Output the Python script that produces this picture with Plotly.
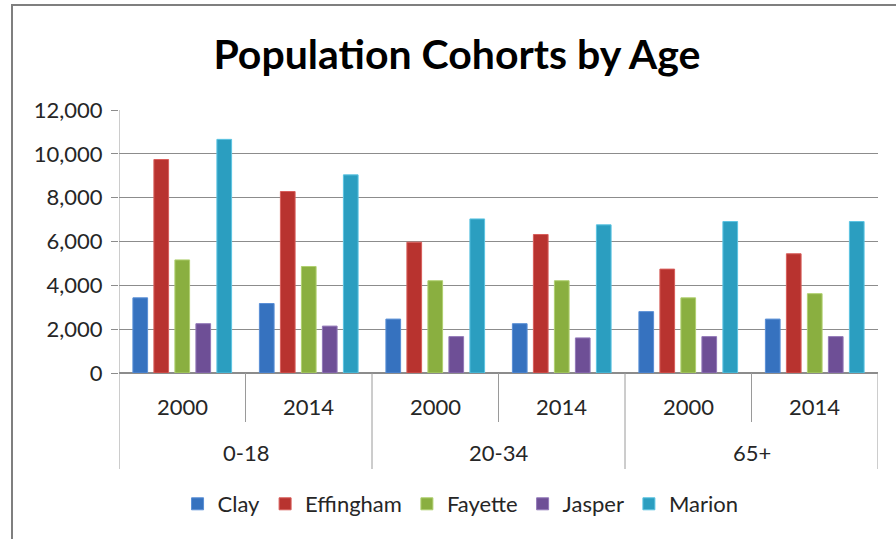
import plotly.graph_objects as go

age_groups = ["0-18", "0-18", "20-34", "20-34", "65+", "65+"]
years = ["2000", "2014", "2000", "2014", "2000", "2014"]

clay = [3430, 3170, 2460, 2250, 2800, 2460]
effingham = [9740, 8280, 5970, 6320, 4740, 5440]
fayette = [5160, 4860, 4210, 4210, 3430, 3620]
jasper = [2250, 2140, 1660, 1600, 1660, 1660]
marion = [10660, 9040, 7030, 6760, 6910, 6910]

series_names = ["Clay", "Effingham", "Fayette", "Jasper", "Marion"]
series_values = [clay, effingham, fayette, jasper, marion]
colors = ["#3672BF", "#B8332F", "#8AAF40", "#6E4F96", "#2B9EC0"]
line_colors = ["#5A8FD6", "#D85E5B", "#B0D070", "#9278B8", "#5CC4E2"]

y_ticks = [0, 2000, 4000, 6000, 8000, 10000, 12000]
y_tick_text = ["0", "2,000", "4,000", "6,000", "8,000", "10,000", "12,000"]

x_pos = list(range(len(years)))

fig = go.Figure()
for name, vals, c, lc in zip(series_names, series_values, colors, line_colors):
    fig.add_trace(go.Bar(
        x=x_pos, y=vals, name=name,
        marker=dict(color=c, line=dict(color=lc, width=1)),
    ))

W, H = 896, 539
L, R, T, B = 119, 18, 110, 166
pw, ph = W - L - R, H - T - B

def px_x(p):
    return (p - L) / pw

def px_y(p):
    return (H - B - p) / ph

label_color = "#262626"
div_color = "#9a9a9a"

annotations = []
shapes = []
# inner (year) labels
for xi, yr in zip(x_pos, years):
    annotations.append(dict(text=yr, x=xi, xref="x", y=px_y(406), yref="paper",
                            xanchor="center", yanchor="middle", showarrow=False,
                            font=dict(size=22, color=label_color)))
# outer (age group) labels and dividers
groups = []
for xi, g in zip(x_pos, age_groups):
    if not groups or groups[-1][0] != g:
        groups.append([g, [xi]])
    else:
        groups[-1][1].append(xi)
for g, idx in groups:
    annotations.append(dict(text=g, x=sum(idx) / len(idx), xref="x", y=px_y(452), yref="paper",
                            xanchor="center", yanchor="middle", showarrow=False,
                            font=dict(size=22, color=label_color)))
    shapes.append(dict(type="line", xref="x", yref="paper", x0=idx[-1] + 0.5, x1=idx[-1] + 0.5,
                       y0=0, y1=px_y(469), line=dict(color=div_color, width=1)))
    for xi in idx[:-1]:
        shapes.append(dict(type="line", xref="x", yref="paper", x0=xi + 0.5, x1=xi + 0.5,
                           y0=0, y1=px_y(422), line=dict(color=div_color, width=1)))
# left axis line extended down through the label area
shapes.append(dict(type="line", xref="x", yref="paper", x0=x_pos[0] - 0.5, x1=x_pos[0] - 0.5,
                   y0=1, y1=px_y(469), line=dict(color=div_color, width=1)))
# outer frame
shapes.append(dict(type="rect", xref="paper", yref="paper",
                   x0=px_x(12), x1=px_x(902), y0=px_y(545), y1=px_y(5),
                   line=dict(color="#7f7f7f", width=2), fillcolor="rgba(0,0,0,0)"))
# cut-off caption above the chart frame
annotations.append(dict(text="<b>Figure 4: Age Cohorts by County</b>", xref="paper", yref="paper",
                        x=px_x(462), y=px_y(-10), xanchor="center", yanchor="middle",
                        showarrow=False,
                        font=dict(family="Liberation Serif", size=18, color="black")))

fig.update_layout(
    width=W, height=H,
    margin=dict(l=L, r=R, t=T, b=B),
    paper_bgcolor="white", plot_bgcolor="white",
    barmode="group", bargap=0.17, bargroupgap=0.3,
    font=dict(family="Lato", color=label_color, size=22),
    title=dict(text="<b>Population Cohorts by Age</b>", x=0.51, xanchor="center",
               y=0.898, yanchor="middle",
               font=dict(family="Lato", size=41, color="black")),
    legend=dict(orientation="h", x=0.45, xanchor="center", y=px_y(504), yanchor="middle",
                font=dict(size=22, color=label_color), itemwidth=30, tracegroupgap=0),
    xaxis=dict(range=[x_pos[0] - 0.5, x_pos[-1] + 0.5], showline=False, ticks="",
               showticklabels=False, showgrid=False, zeroline=False),
    yaxis=dict(range=[0, 12000], tickvals=y_ticks, ticktext=y_tick_text,
               showgrid=True, gridcolor="#8c8c8c", gridwidth=1, zeroline=True,
               zerolinecolor="#8c8c8c", showline=False,
               ticks="outside", ticklen=7, tickcolor="#8c8c8c",
               ticklabelstandoff=4,
               tickfont=dict(size=22, color=label_color)),
    shapes=shapes,
    annotations=annotations,
)

fig.write_html("out.html", config={"displayModeBar": False},
               post_script="document.body.style.margin='0';")
